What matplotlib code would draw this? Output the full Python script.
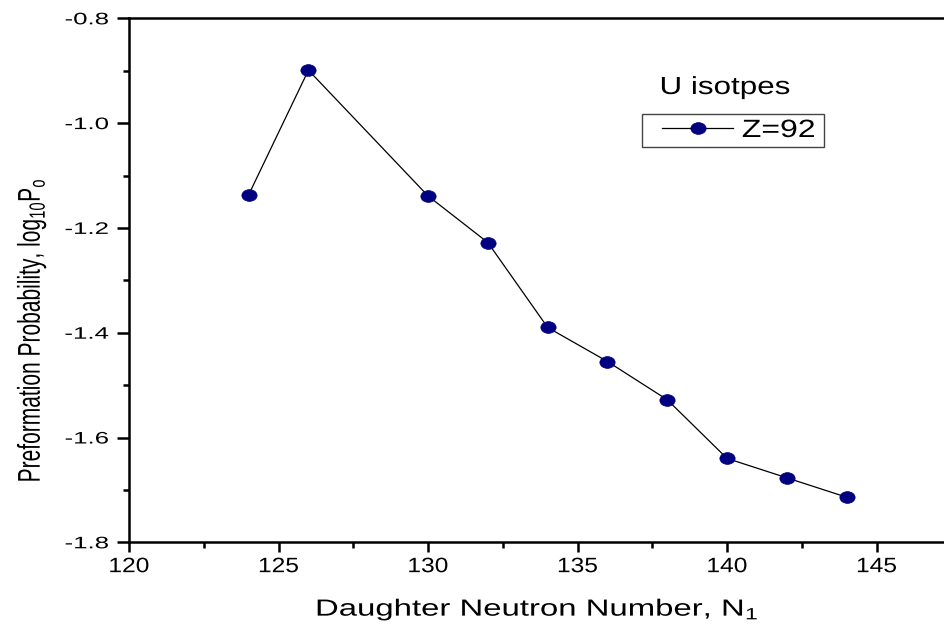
import matplotlib
matplotlib.use("Agg")
import matplotlib.pyplot as plt
import numpy as np
from matplotlib.patheffects import AbstractPathEffect
from matplotlib.transforms import Affine2D
from matplotlib.path import Path
from matplotlib.patches import Rectangle

plt.rcParams['font.family'] = ['Liberation Sans', 'DejaVu Sans']
plt.rcParams['mathtext.fontset'] = 'custom'
plt.rcParams['mathtext.rm'] = 'Liberation Sans'
plt.rcParams['mathtext.it'] = 'Liberation Sans'

# Daughter neutron number and preformation probability for U isotopes
neutron_number = [124, 126, 130, 132, 134, 136, 138, 140, 142, 144]
log_p0 = [-1.137, -0.899, -1.139, -1.228, -1.390, -1.455, -1.528, -1.640, -1.677, -1.714]

x_ticks = [120, 125, 130, 135, 140, 145]
x_tick_labels = ["120", "125", "130", "135", "140", "145"]
y_ticks = [-1.8, -1.6, -1.4, -1.2, -1.0, -0.8]
y_tick_labels = ["-1.8", "-1.6", "-1.4", "-1.2", "-1.0", "-0.8"]

series_label = "Z=92"
legend_title = "U isotpes"
x_label = "Daughter Neutron Number, N$_{\\mathregular{1}}$"
y_label = "Preformation Probability, log$_{\\mathregular{10}}$P$_{\\mathregular{o}}$"


class HStretch(AbstractPathEffect):
    """Widen a text path horizontally about its left, centre or right edge."""

    def __init__(self, sx, anchor="center"):
        super().__init__()
        self.sx = sx
        self.anchor = anchor

    def draw_path(self, renderer, gc, tpath, affine, rgbFace=None):
        ext = tpath.get_extents(affine)
        if self.anchor == "left":
            x0 = ext.x0
        elif self.anchor == "right":
            x0 = ext.x1
        else:
            x0 = 0.5 * (ext.x0 + ext.x1)
        stretch = Affine2D().translate(-x0, 0).scale(self.sx, 1).translate(x0, 0)
        renderer.draw_path(gc, tpath, affine + stretch, rgbFace)


# slightly wide elliptical dot marker
ellipse = Path.unit_circle().transformed(Affine2D().scale(1.3, 1.0))

W, H = 944, 630
fig = plt.figure(figsize=(W / 100, H / 100), dpi=100)
left_px, right_px = 129, 946
bottom_px, top_px = 542.3, 18.3
ax = fig.add_axes([left_px / W, (H - bottom_px) / H,
                   (right_px - left_px) / W, (bottom_px - top_px) / H])

ax.plot(neutron_number, log_p0, color='black', lw=0.9,
        marker=ellipse, markersize=11, markerfacecolor='#000080',
        markeredgecolor='#000080', markeredgewidth=0.5, label=series_label)

ax.set_xlim(120, 147.32)
ax.set_ylim(-1.8, -0.8)
ax.set_xticks(x_ticks, x_tick_labels)
ax.set_yticks(y_ticks, y_tick_labels)
ax.set_xticks(np.arange(122.5, 147.3, 5.0), minor=True)
ax.set_yticks(np.arange(-1.7, -0.85, 0.2), minor=True)

for s in ax.spines.values():
    s.set_linewidth(1.8)
ax.tick_params(axis='x', which='major', direction='out', length=7.2, width=1.8,
               labelsize=15, pad=3.5)
ax.tick_params(axis='x', which='minor', direction='out', length=4.3, width=1.8)
ax.tick_params(axis='y', which='major', direction='out', length=8.6, width=1.8,
               labelsize=12, pad=6.2)
ax.tick_params(axis='y', which='minor', direction='out', length=4.3, width=1.8)

for t in ax.get_xticklabels():
    t.set_path_effects([HStretch(1.18, "center")])
for t in ax.get_yticklabels():
    t.set_path_effects([HStretch(1.55, "right")])

ax.set_xlabel(x_label, fontsize=16.8,
              path_effects=[HStretch(1.41, "center")])
ax.xaxis.set_label_coords(0.5, -0.102)
ax.set_ylabel(y_label, fontsize=15.1,
              path_effects=[HStretch(1.5, "right")])
ax.yaxis.set_label_coords((48 - left_px) / (right_px - left_px), 0.405)

fig.text(660 / W, 1 - 94 / H, legend_title, fontsize=17.8,
         ha='left', va='baseline', path_effects=[HStretch(1.27, "left")])

fig.patches.append(Rectangle((642 / W, 1 - 147 / H), 182 / W, 33 / H,
                             transform=fig.transFigure, fill=False,
                             edgecolor='#444444', linewidth=1.0))
leg = ax.legend(loc='upper left', bbox_to_anchor=(662 / W, 1 - 118 / H),
                bbox_transform=fig.transFigure, fontsize=18,
                frameon=False, handlelength=2.84, handletextpad=0.36,
                borderpad=0, borderaxespad=0)
for t in leg.get_texts():
    t.set_path_effects([HStretch(1.28, "left")])

fig.savefig("out.png", dpi=100)
